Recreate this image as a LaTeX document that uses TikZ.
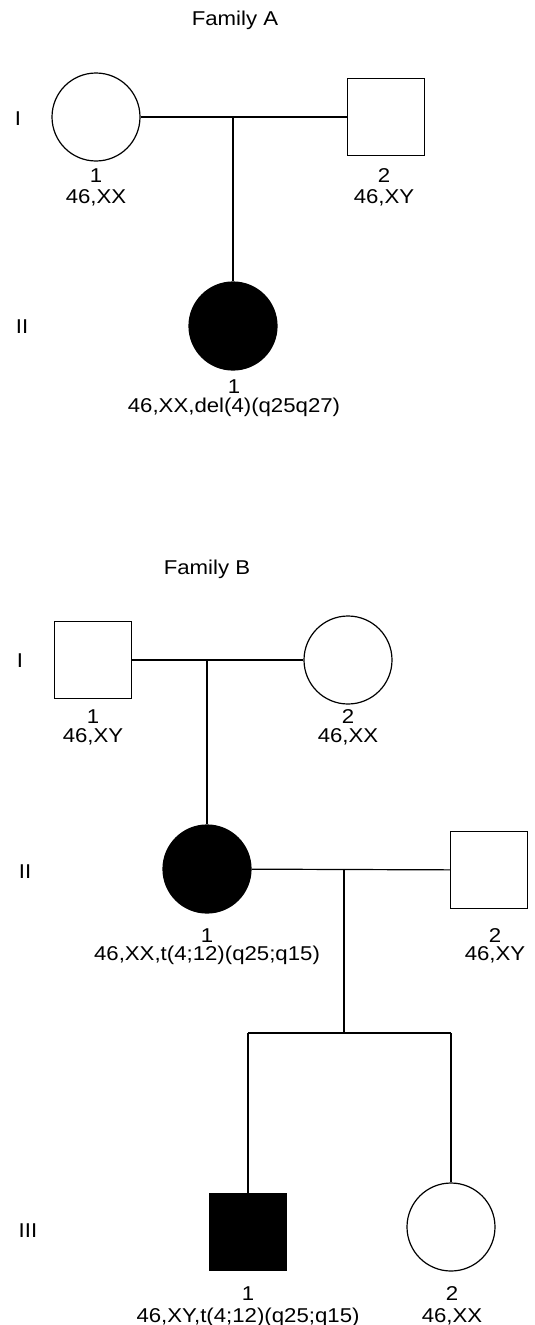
\documentclass[tikz,border=0pt]{standalone}
\usepackage{fontspec}
\setmainfont{Liberation Sans}[FakeStretch=1.11]
\begin{document}
\begin{tikzpicture}[x=1pt,y=-1pt,
  line width=1.2pt,
  fem/.style={circle,draw,minimum size=88pt,inner sep=0pt},
  mal/.style={rectangle,draw,minimum size=77pt,inner sep=0pt},
  aff/.style={fill=black},
  lbl/.style={anchor=base,inner sep=0pt,font=\fontsize{20}{22}\selectfont},
  gen/.style={anchor=base,inner sep=0pt,font=\fontsize{20}{22}\selectfont},
  ttl/.style={anchor=base,inner sep=0pt,font=\fontsize{20}{22}\selectfont}]
\useasboundingbox (0,0) rectangle (535,1325);
% ---------------- Family A ----------------
\node[ttl] (tA) at (235,25) {Family A};
\node[gen] (gAI) at (18,125) {I};
\node[gen] (gAII) at (22,333) {II};
\node[fem] (A1) at (96,117) {};
\node[mal] (A2) at (386,117) {};
\coordinate (mA) at (233,117);
\node[fem,aff] (A3) at (233,326) {};
\draw (A1) -- (A2);
\draw (mA) -- (A3);
\node[lbl] (A1n) at (96,182) {1};
\node[lbl] (A1k) at (96,203) {46,XX};
\node[lbl] (A2n) at (384,182) {2};
\node[lbl] (A2k) at (384,203) {46,XY};
\node[lbl] (A3n) at (234,393) {1};
\node[lbl] (A3k) at (234,412) {46,XX,del(4)(q25q27)};
% ---------------- Family B ----------------
\node[ttl] (tB) at (207,574) {Family B};
\node[gen] (gBI) at (20,667) {I};
\node[gen] (gBII) at (25,878) {II};
\node[gen] (gBIII) at (28,1237) {III};
\node[mal] (B1) at (93,660) {};
\node[fem] (B2) at (348,660) {};
\coordinate (mB) at (207,660);
\draw (B1) -- (B2);
\node[fem,aff] (B3) at (207,869) {};
\draw (mB) -- (B3);
\node[mal] (B4) at (489,870) {};
\draw (B3) -- (B4);
\coordinate (mB2) at (344,870);
\coordinate (sB) at (344,1033);
\coordinate (sL) at (248,1033);
\coordinate (sR) at (451,1033);
\node[mal,aff] (B5) at (248,1232) {};
\node[fem] (B6) at (451,1227) {};
\draw (mB2) -- (sB);
\draw (sL) -- (sR);
\draw (sL) -- (B5);
\draw (sR) -- (B6);
\node[lbl] (B1n) at (93,723) {1};
\node[lbl] (B1k) at (93,742) {46,XY};
\node[lbl] (B2n) at (348,723) {2};
\node[lbl] (B2k) at (348,742) {46,XX};
\node[lbl] (B3n) at (207,942) {1};
\node[lbl] (B3k) at (207,960) {46,XX,t(4;12)(q25;q15)};
\node[lbl] (B4n) at (495,942) {2};
\node[lbl] (B4k) at (495,960) {46,XY};
\node[lbl] (B5n) at (248,1300) {1};
\node[lbl] (B5k) at (248,1322) {46,XY,t(4;12)(q25;q15)};
\node[lbl] (B6n) at (452,1300) {2};
\node[lbl] (B6k) at (452,1322) {46,XX};
\end{tikzpicture}
\end{document}
